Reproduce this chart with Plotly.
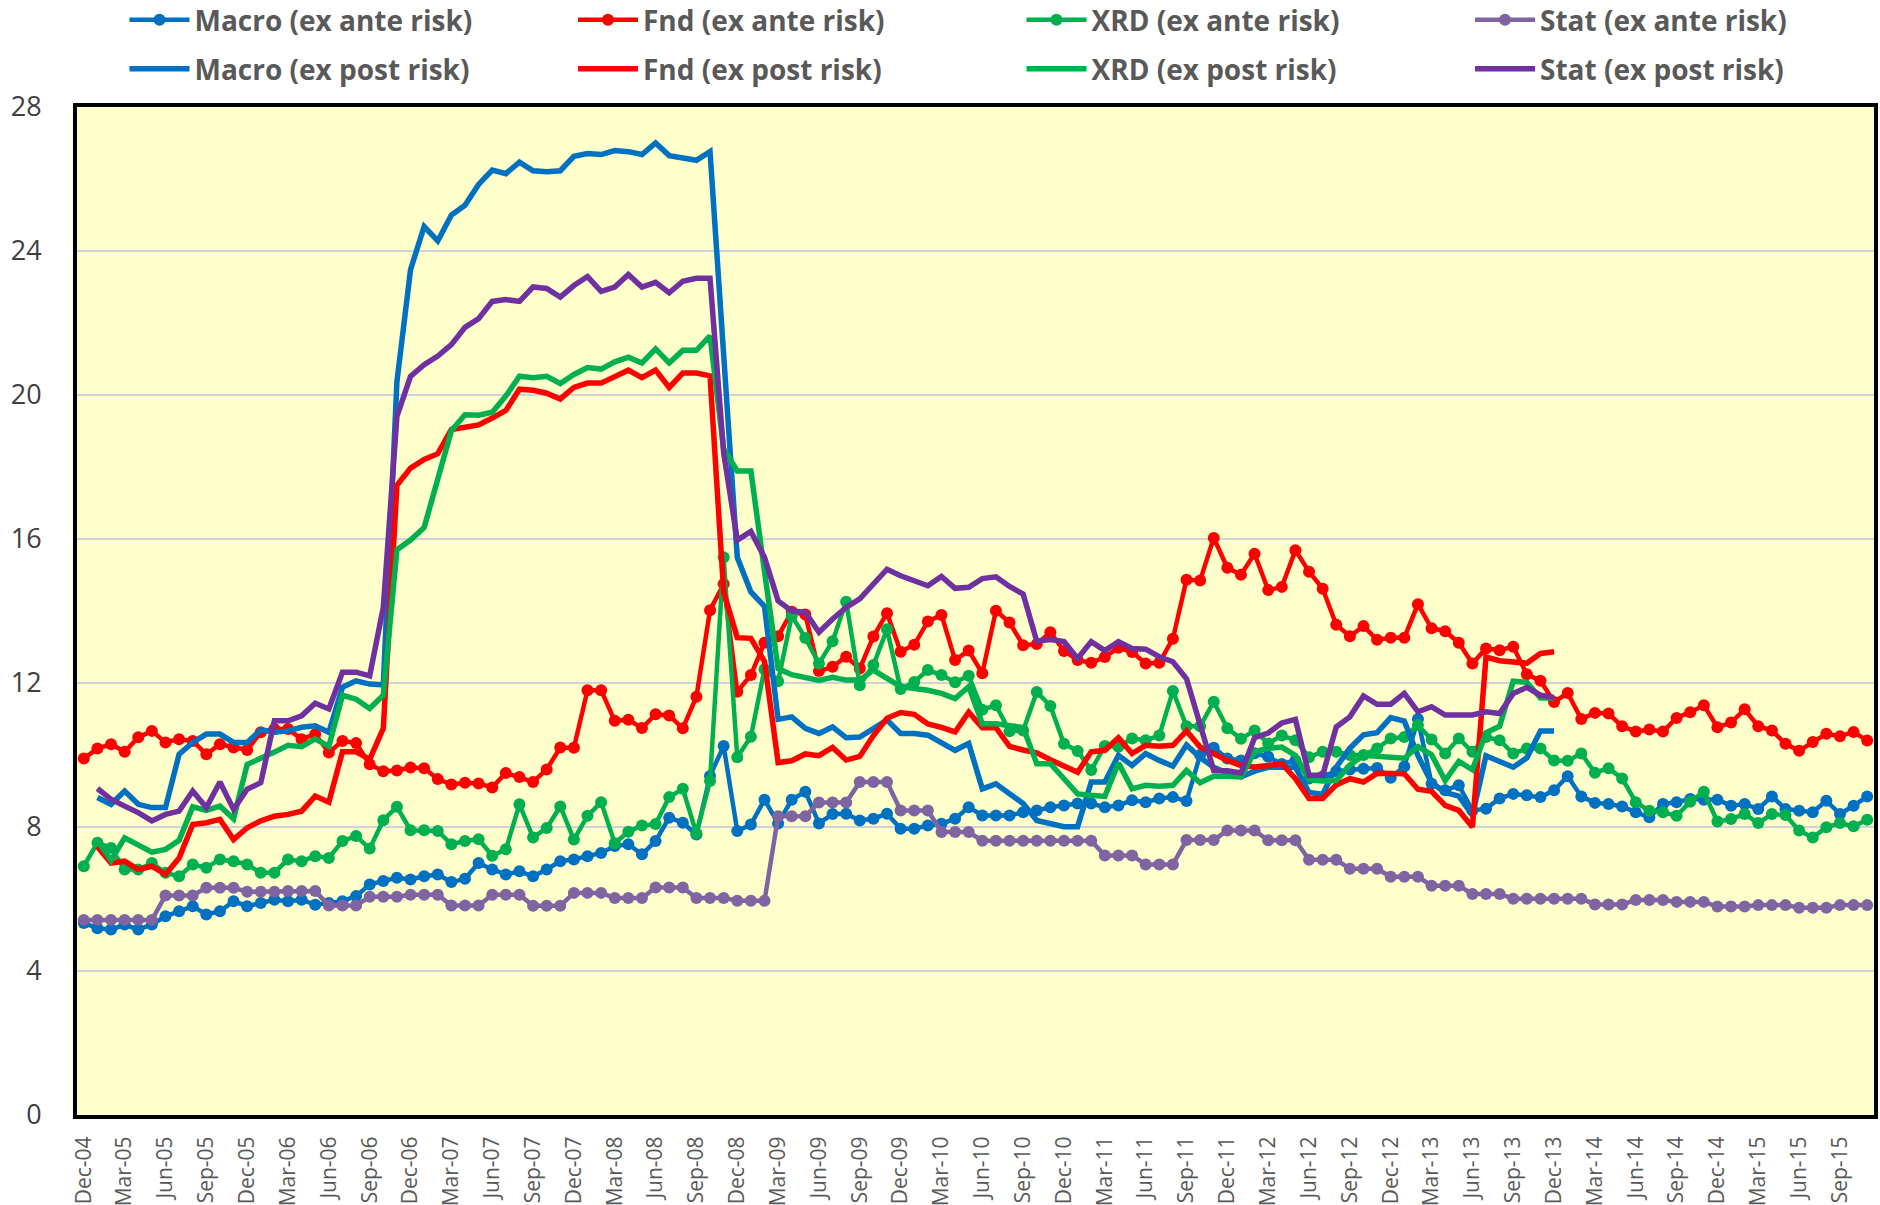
import plotly.graph_objects as go

MONTH_NAMES = ["Jan", "Feb", "Mar", "Apr", "May", "Jun", "Jul", "Aug", "Sep", "Oct", "Nov", "Dec"]
months = ["Dec-04"] + [f"{MONTH_NAMES[i % 12]}-{5 + i // 12:02d}" for i in range(131)]  # Dec-04 .. Nov-15
tick_labels = months[::3]

# ---- ex ante risk (monthly, Dec-04 .. Nov-15) ----
macro_ante = [5.33, 5.19, 5.15, 5.29, 5.15, 5.29, 5.52, 5.66, 5.80, 5.57,
              5.66, 5.94, 5.80, 5.89, 5.98, 5.94, 5.98, 5.84, 5.89, 5.94,
              6.08, 6.40, 6.50, 6.59, 6.54, 6.63, 6.68, 6.47, 6.56, 7.00,
              6.82, 6.68, 6.77, 6.63, 6.82, 7.05, 7.10, 7.19, 7.28, 7.47,
              7.52, 7.24, 7.61, 8.26, 8.12, 7.79, 9.42, 10.25, 7.89, 8.07,
              8.76, 8.10, 8.76, 8.98, 8.10, 8.36, 8.37, 8.18, 8.23, 8.37,
              7.95, 7.95, 8.04, 8.09, 8.23, 8.55, 8.32, 8.32, 8.32, 8.41,
              8.46, 8.55, 8.60, 8.65, 8.65, 8.55, 8.60, 8.74, 8.69, 8.79,
              8.83, 8.72, 10.0, 10.2, 9.9, 9.85, 10.05, 9.95, 9.75, 9.85,
              9.35, 9.4, 9.55, 9.6, 9.62, 9.64, 9.37, 9.68, 11.0, 9.2,
              9.02, 9.16, 8.46, 8.51, 8.79, 8.92, 8.88, 8.83, 9.02, 9.41,
              8.85, 8.67, 8.64, 8.57, 8.41, 8.27, 8.64, 8.69, 8.78, 8.76,
              8.76, 8.59, 8.64, 8.50, 8.85, 8.50, 8.45, 8.41, 8.73, 8.36,
              8.59, 8.85]

fnd_ante = [9.90, 10.18, 10.30, 10.09, 10.49, 10.67, 10.35, 10.44, 10.39, 10.02,
            10.30, 10.21, 10.14, 10.63, 10.72, 10.72, 10.44, 10.58, 10.07, 10.39,
            10.33, 9.74, 9.55, 9.57, 9.65, 9.63, 9.33, 9.18, 9.23, 9.21,
            9.10, 9.50, 9.39, 9.25, 9.60, 10.21, 10.20, 11.80, 11.80, 10.95,
            10.98, 10.75, 11.13, 11.10, 10.74, 11.62, 14.02, 14.75, 11.76, 12.22,
            13.12, 13.30, 13.98, 13.90, 12.33, 12.45, 12.73, 12.40, 13.29, 13.94,
            12.87, 13.06, 13.71, 13.89, 12.64, 12.90, 12.27, 14.01, 13.68, 13.05,
            13.08, 13.41, 12.89, 12.64, 12.56, 12.72, 12.98, 12.86, 12.54, 12.56,
            13.23, 14.87, 14.85, 16.03, 15.20, 15.01, 15.59, 14.58, 14.67, 15.69,
            15.09, 14.62, 13.62, 13.30, 13.58, 13.20, 13.26, 13.26, 14.19, 13.52,
            13.44, 13.12, 12.54, 12.96, 12.91, 13.01, 12.24, 12.06, 11.47, 11.72,
            11.00, 11.17, 11.15, 10.80, 10.65, 10.71, 10.65, 11.03, 11.19, 11.38,
            10.77, 10.90, 11.27, 10.80, 10.68, 10.31, 10.12, 10.36, 10.59, 10.52,
            10.64, 10.40]

xrd_ante = [6.91, 7.56, 7.42, 6.82, 6.82, 7.00, 6.73, 6.63, 6.96, 6.87,
            7.10, 7.05, 6.96, 6.73, 6.73, 7.10, 7.05, 7.19, 7.14, 7.61,
            7.75, 7.40, 8.19, 8.56, 7.91, 7.91, 7.89, 7.52, 7.61, 7.66,
            7.20, 7.38, 8.63, 7.71, 7.97, 8.57, 7.65, 8.31, 8.69, 7.55,
            7.87, 8.04, 8.08, 8.83, 9.06, 7.82, 9.28, 15.49, 9.94, 10.51,
            12.38, 12.05, 13.87, 13.25, 12.54, 13.16, 14.26, 11.94, 12.50, 13.49,
            11.83, 12.03, 12.36, 12.22, 12.02, 12.20, 11.26, 11.38, 10.66, 10.68,
            11.75, 11.36, 10.31, 10.11, 9.58, 10.25, 10.23, 10.46, 10.41, 10.54,
            11.78, 10.80, 10.80, 11.48, 10.74, 10.45, 10.68, 10.32, 10.54, 10.41,
            9.94, 10.09, 10.09, 10.00, 10.00, 10.18, 10.46, 10.50, 10.83, 10.43,
            10.04, 10.46, 10.09, 10.50, 10.41, 10.04, 10.18, 10.18, 9.85, 9.84,
            10.04, 9.51, 9.63, 9.35, 8.69, 8.45, 8.41, 8.31, 8.70, 8.98,
            8.15, 8.22, 8.36, 8.11, 8.36, 8.33, 7.90, 7.71, 7.99, 8.11,
            8.02, 8.20]

stat_ante = [5.42, 5.42, 5.42, 5.42, 5.42, 5.42, 6.10, 6.10, 6.10, 6.31,
             6.31, 6.31, 6.20, 6.20, 6.20, 6.22, 6.22, 6.22, 5.82, 5.82,
             5.82, 6.06, 6.06, 6.06, 6.12, 6.12, 6.12, 5.82, 5.82, 5.82,
             6.12, 6.12, 6.12, 5.81, 5.81, 5.81, 6.17, 6.17, 6.17, 6.03,
             6.03, 6.03, 6.32, 6.32, 6.32, 6.03, 6.03, 6.03, 5.95, 5.95,
             5.95, 8.30, 8.30, 8.30, 8.68, 8.68, 8.68, 9.25, 9.25, 9.25,
             8.46, 8.46, 8.46, 7.86, 7.86, 7.86, 7.62, 7.62, 7.62, 7.62,
             7.62, 7.62, 7.62, 7.62, 7.62, 7.21, 7.21, 7.21, 6.96, 6.96,
             6.96, 7.64, 7.64, 7.64, 7.90, 7.90, 7.90, 7.63, 7.63, 7.63,
             7.09, 7.09, 7.09, 6.84, 6.84, 6.84, 6.62, 6.62, 6.62, 6.37,
             6.37, 6.37, 6.14, 6.14, 6.14, 6.01, 6.01, 6.01, 6.01, 6.01,
             6.01, 5.85, 5.85, 5.85, 5.97, 5.97, 5.97, 5.92, 5.92, 5.92,
             5.79, 5.79, 5.79, 5.83, 5.83, 5.83, 5.76, 5.76, 5.76, 5.83,
             5.83, 5.83]

# ---- ex post risk (monthly, Jan-05 .. Dec-13) ----
post_months = months[1:109]

macro_post = [8.82, 8.63, 9.00, 8.63, 8.54, 8.54, 10.02, 10.35, 10.58,
              10.58, 10.35, 10.35, 10.70, 10.63, 10.67, 10.77, 10.81, 10.63, 11.88,
              12.06, 11.97, 11.95, 20.37, 23.48, 24.68, 24.28, 25.00, 25.27, 25.85,
              26.25, 26.15, 26.47, 26.23, 26.20, 26.23, 26.63, 26.71, 26.68, 26.79,
              26.76, 26.68, 27.00, 26.65, 26.60, 26.52, 26.76, 21.0, 15.49, 14.53,
              14.13, 10.99, 11.06, 10.74, 10.60, 10.78, 10.48, 10.50, 10.74, 10.97,
              10.60, 10.60, 10.55, 10.36, 10.13, 10.32, 9.06, 9.20, 8.92, 8.65,
              8.18, 8.09, 8.01, 8.01, 9.25, 9.25, 9.99, 9.71, 10.04, 9.85,
              9.69, 10.28, 9.93, 9.66, 9.50, 9.39, 9.55, 9.66, 9.66, 9.66,
              8.96, 8.91, 9.66, 10.19, 10.56, 10.62, 11.04, 10.94, 9.98, 9.23,
              8.96, 8.86, 8.32, 9.98, 9.82, 9.66, 9.92, 10.67, 10.67]

fnd_post = [7.45, 7.00, 7.05, 6.82, 6.91, 6.68, 7.14, 8.07, 8.12,
            8.21, 7.65, 7.98, 8.17, 8.30, 8.35, 8.44, 8.86, 8.69, 10.09,
            10.09, 9.88, 10.74, 17.49, 17.97, 18.21, 18.37, 19.04, 19.09, 19.17,
            19.36, 19.57, 20.16, 20.13, 20.05, 19.89, 20.21, 20.33, 20.33, 20.53,
            20.69, 20.48, 20.69, 20.21, 20.61, 20.61, 20.53, 14.53, 13.26, 13.24,
            12.60, 9.79, 9.84, 10.03, 9.98, 10.21, 9.86, 9.96, 10.54, 11.02,
            11.18, 11.13, 10.86, 10.77, 10.64, 11.19, 10.76, 10.76, 10.24, 10.14,
            10.06, 9.87, 9.71, 9.52, 10.09, 10.13, 10.48, 10.04, 10.27, 10.24,
            10.27, 10.67, 10.22, 10.02, 9.85, 9.71, 9.67, 9.71, 9.76, 9.34,
            8.79, 8.79, 9.17, 9.34, 9.25, 9.49, 9.48, 9.48, 9.05, 8.99,
            8.60, 8.46, 8.00, 12.72, 12.62, 12.58, 12.55, 12.82, 12.87]

xrd_post = [7.63, 7.07, 7.70, 7.50, 7.30, 7.38, 7.63, 8.56, 8.46,
            8.58, 8.23, 9.74, 9.90, 10.08, 10.27, 10.23, 10.45, 10.24, 11.66,
            11.55, 11.29, 11.66, 15.70, 15.97, 16.32, 17.65, 19.01, 19.45, 19.44,
            19.52, 19.97, 20.52, 20.48, 20.52, 20.32, 20.57, 20.76, 20.72, 20.92,
            21.05, 20.89, 21.28, 20.89, 21.24, 21.24, 21.64, 18.50, 17.89, 17.89,
            15.10, 12.40, 12.23, 12.14, 12.07, 12.16, 12.08, 12.08, 12.36, 12.13,
            11.90, 11.85, 11.80, 11.71, 11.57, 11.90, 10.87, 10.87, 10.83, 10.76,
            9.76, 9.76, 9.34, 8.92, 8.88, 8.85, 9.78, 9.06, 9.16, 9.13,
            9.16, 9.57, 9.23, 9.41, 9.41, 9.39, 10.09, 10.18, 10.22, 9.99,
            9.31, 9.28, 9.29, 9.72, 9.99, 9.95, 9.94, 9.91, 10.23, 10.01,
            9.29, 9.82, 9.59, 10.62, 10.80, 12.05, 12.02, 11.58, 11.58]

stat_post = [9.07, 8.77, 8.58, 8.40, 8.17, 8.35, 8.44, 9.00, 8.54,
             9.25, 8.49, 9.05, 9.23, 10.95, 10.95, 11.09, 11.44, 11.28, 12.30,
             12.30, 12.20, 14.10, 19.41, 20.52, 20.84, 21.08, 21.40, 21.88, 22.12,
             22.60, 22.65, 22.60, 23.00, 22.96, 22.72, 23.04, 23.29, 22.88, 23.00,
             23.35, 23.00, 23.13, 22.84, 23.16, 23.24, 23.24, 18.40, 15.97, 16.21,
             15.49, 14.28, 14.00, 13.97, 13.41, 13.78, 14.10, 14.34, 14.75, 15.16,
             14.98, 14.83, 14.70, 14.96, 14.63, 14.66, 14.90, 14.95, 14.68, 14.47,
             13.16, 13.21, 13.15, 12.68, 13.15, 12.90, 13.15, 12.96, 12.94, 12.73,
             12.59, 12.12, 10.90, 9.57, 9.56, 9.50, 10.48, 10.61, 10.89, 10.99,
             9.44, 9.44, 10.78, 11.06, 11.64, 11.41, 11.41, 11.71, 11.20, 11.34,
             11.11, 11.11, 11.11, 11.20, 11.15, 11.71, 11.88, 11.66, 11.60]

BLUE, RED, GREEN = "#0070C0", "#FF0000", "#00B050"
PURPLE_ANTE, PURPLE_POST = "#8064A2", "#7030A0"
FONT = "'Open Sans', Lato, 'Liberation Sans', sans-serif"

ante = [("Macro (ex ante risk)", macro_ante, BLUE),
        ("Fnd (ex ante risk)", fnd_ante, RED),
        ("XRD (ex ante risk)", xrd_ante, GREEN),
        ("Stat (ex ante risk)", stat_ante, PURPLE_ANTE)]
post = [("Macro (ex post risk)", macro_post, BLUE),
        ("Fnd (ex post risk)", fnd_post, RED),
        ("XRD (ex post risk)", xrd_post, GREEN),
        ("Stat (ex post risk)", stat_post, PURPLE_POST)]

# figure geometry (px); the page body margin is removed so the figure fills the window
W, H = 1880, 1205
ML, MR, MT, MB = 77, 6, 107, 90
PW, PH = W - ML - MR, H - MT - MB

# legend: 4 columns x 2 rows, one legend box per entry
col_px = [124.5, 573, 1021.5, 1470]   # left edge of each legend entry
row_px = [20, 69]                      # vertical centre of each row

fig = go.Figure()
legend_layouts = {}
k = 0
for row, group in enumerate([ante, post]):
    for col, (name, vals, color) in enumerate(group):
        k += 1
        lname = "legend" if k == 1 else f"legend{k}"
        is_ante = row == 0
        fig.add_trace(go.Scatter(
            x=months if is_ante else post_months, y=vals, name=name,
            mode="lines+markers" if is_ante else "lines",
            line=dict(color=color, width=4.5 if is_ante else 5.5),
            marker=dict(color=color, size=12, symbol="circle"),
            legend=lname))
        legend_layouts[lname] = dict(
            x=(col_px[col] - ML) / PW, y=1 + (MT - row_px[row]) / PH,
            xref="paper", yref="paper", xanchor="left", yanchor="middle",
            orientation="v", itemwidth=60, borderwidth=0,
            bgcolor="rgba(0,0,0,0)", itemclick=False, itemdoubleclick=False,
            font=dict(family=FONT, size=28, color="#595959", weight=700))

fig.update_layout(
    width=W, height=H,
    margin=dict(l=ML, r=MR, t=MT, b=MB, pad=0, autoexpand=False),
    paper_bgcolor="white",
    plot_bgcolor="#FFFFCC",
    font=dict(family=FONT, color="#595959"),
    xaxis=dict(type="category", categoryorder="array", categoryarray=months,
               range=[-0.5, len(months) - 0.5],
               tickmode="array", tickvals=tick_labels, ticktext=tick_labels,
               tickangle=-90, tickfont=dict(family=FONT, size=21, color="#595959"),
               showgrid=False, showline=True, linecolor="black", linewidth=4,
               mirror=True, ticks="", zeroline=False, automargin=False,
               ticklabelstandoff=9),
    yaxis=dict(range=[0, 28], tickmode="linear", tick0=0, dtick=4,
               tickfont=dict(family=FONT, size=27, color="#404040"),
               showgrid=True, gridcolor="#D2D2DE", gridwidth=1.5,
               showline=True, linecolor="black", linewidth=4, mirror=True,
               ticks="", zeroline=False, ticklabelstandoff=26, automargin=False),
    showlegend=True,
    **legend_layouts,
)

fig.write_html("out.html",
               config={"displayModeBar": False},
               post_script="document.body.style.margin='0';document.body.style.overflow='hidden';")
